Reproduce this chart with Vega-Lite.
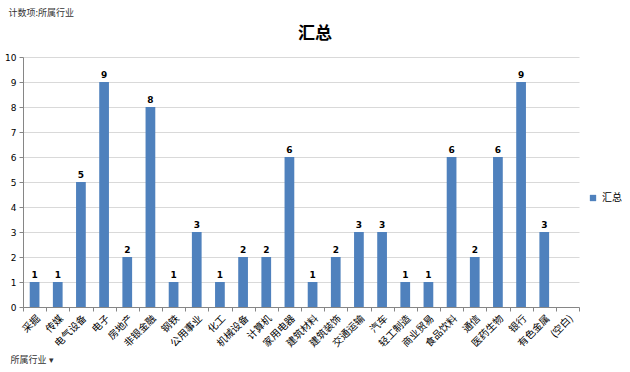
{
  "$schema": "https://vega.github.io/schema/vega-lite/v6.json",
  "autosize": {"type": "none"},
  "width": 556,
  "height": 250,
  "padding": {"left": 23, "top": 57, "right": 51, "bottom": 65},
  "background": "white",
  "config": {
    "font": "Noto Sans CJK SC",
    "view": {"stroke": null}
  },
  "title": {
    "text": "汇总",
    "fontSize": 17,
    "fontWeight": "bold",
    "color": "#000000",
    "anchor": "middle",
    "frame": "group",
    "dx": 14,
    "offset": -35,
    "font": "Noto Sans CJK SC"
  },
  "data": {
    "values": [
      {"industry": "采掘", "count": 1, "series": "汇总"},
      {"industry": "传媒", "count": 1, "series": "汇总"},
      {"industry": "电气设备", "count": 5, "series": "汇总"},
      {"industry": "电子", "count": 9, "series": "汇总"},
      {"industry": "房地产", "count": 2, "series": "汇总"},
      {"industry": "非银金融", "count": 8, "series": "汇总"},
      {"industry": "钢铁", "count": 1, "series": "汇总"},
      {"industry": "公用事业", "count": 3, "series": "汇总"},
      {"industry": "化工", "count": 1, "series": "汇总"},
      {"industry": "机械设备", "count": 2, "series": "汇总"},
      {"industry": "计算机", "count": 2, "series": "汇总"},
      {"industry": "家用电器", "count": 6, "series": "汇总"},
      {"industry": "建筑材料", "count": 1, "series": "汇总"},
      {"industry": "建筑装饰", "count": 2, "series": "汇总"},
      {"industry": "交通运输", "count": 3, "series": "汇总"},
      {"industry": "汽车", "count": 3, "series": "汇总"},
      {"industry": "轻工制造", "count": 1, "series": "汇总"},
      {"industry": "商业贸易", "count": 1, "series": "汇总"},
      {"industry": "食品饮料", "count": 6, "series": "汇总"},
      {"industry": "通信", "count": 2, "series": "汇总"},
      {"industry": "医药生物", "count": 6, "series": "汇总"},
      {"industry": "银行", "count": 9, "series": "汇总"},
      {"industry": "有色金属", "count": 3, "series": "汇总"}
    ]
  },
  "encoding": {
    "x": {
      "field": "industry",
      "type": "nominal",
      "scale": {
        "domain": ["采掘", "传媒", "电气设备", "电子", "房地产", "非银金融", "钢铁", "公用事业", "化工", "机械设备", "计算机", "家用电器", "建筑材料", "建筑装饰", "交通运输", "汽车", "轻工制造", "商业贸易", "食品饮料", "通信", "医药生物", "银行", "有色金属", "(空白)"],
        "paddingInner": 0,
        "paddingOuter": 0
      },
      "axis": {
        "title": "所属行业 ▾",
        "titleX": -13,
        "titleY": 52,
        "titleAlign": "left",
        "titleAnchor": "start",
        "titleBaseline": "middle",
        "titleFontSize": 9,
        "titleFontWeight": "normal",
        "titleColor": "#333333",
        "labelAngle": -45,
        "labelAlign": "right",
        "labelBaseline": "top",
        "labelFontSize": 10,
        "labelColor": "#000000",
        "labelPadding": 2,
        "tickBand": "extent",
        "tickColor": "#868686",
        "tickSize": 4,
        "domainColor": "#868686",
        "grid": false
      }
    },
    "y": {
      "field": "count",
      "type": "quantitative",
      "scale": {"domain": [0, 10], "nice": false},
      "axis": {
        "title": "计数项:所属行业",
        "titleAngle": 0,
        "titleX": -15,
        "titleY": -45,
        "titleAlign": "left",
        "titleBaseline": "middle",
        "titleFontSize": 9,
        "titleFontWeight": "normal",
        "titleColor": "#333333",
        "values": [0, 1, 2, 3, 4, 5, 6, 7, 8, 9, 10],
        "labelFontSize": 9,
        "labelColor": "#000000",
        "labelFont": "DejaVu Sans",
        "labelPadding": 3,
        "tickColor": "#868686",
        "tickSize": 4,
        "domainColor": "#868686",
        "gridColor": "#D9D9D9",
        "grid": true
      }
    }
  },
  "layer": [
    {
      "mark": {"type": "bar", "width": {"band": 0.42}},
      "encoding": {
        "color": {
          "field": "series",
          "type": "nominal",
          "scale": {"range": ["#4F81BD"]},
          "legend": {
            "title": null,
            "orient": "none",
            "legendX": 565,
            "legendY": 136,
            "symbolType": "square",
            "symbolSize": 40,
            "labelFontSize": 10,
            "labelColor": "#000000"
          }
        }
      }
    },
    {
      "mark": {"type": "text", "dy": -7, "fontWeight": "bold", "fontSize": 9, "font": "DejaVu Sans", "color": "#000000"},
      "encoding": {
        "text": {"field": "count", "type": "quantitative"}
      }
    }
  ]
}
